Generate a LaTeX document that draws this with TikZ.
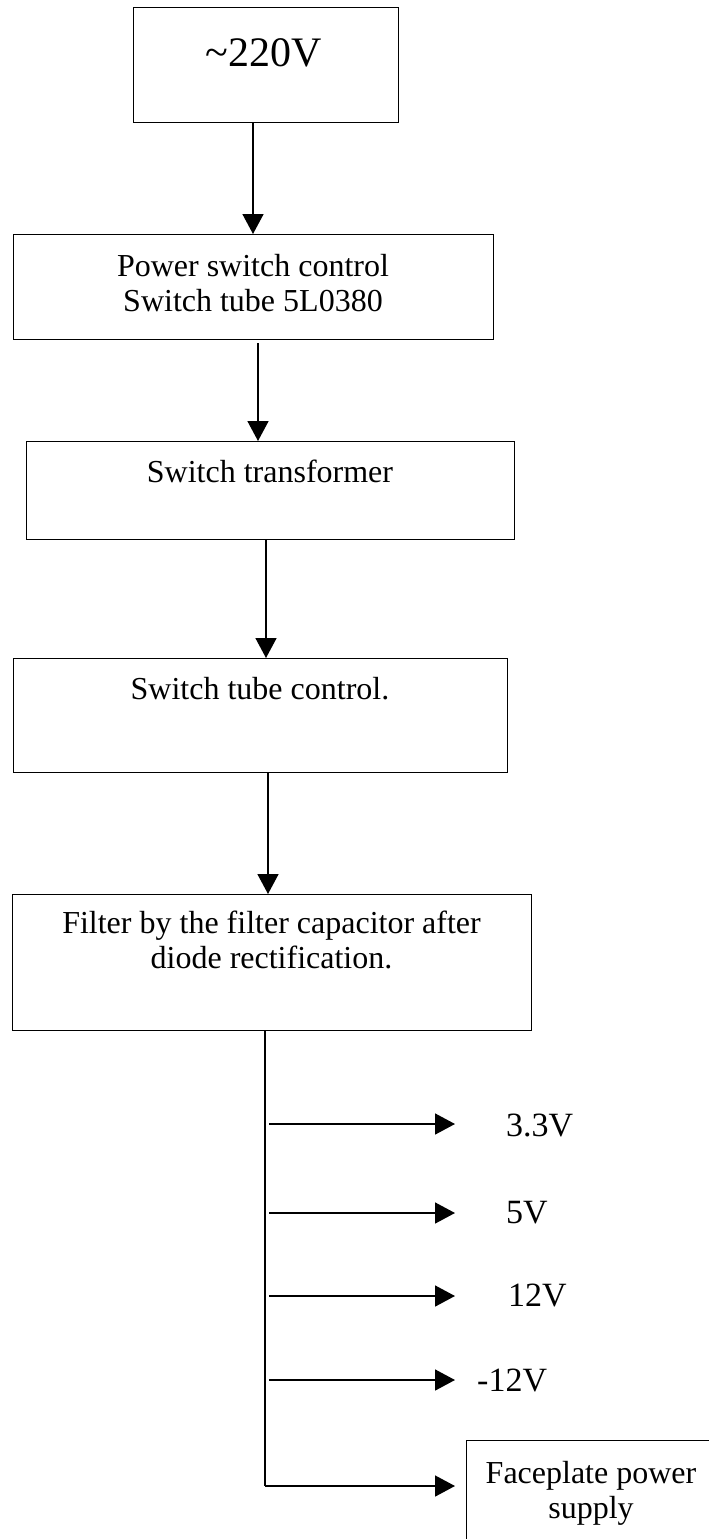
\documentclass[tikz,border=0pt]{standalone}
\usepackage{fontspec}
\setmainfont{Liberation Serif}
\usetikzlibrary{arrows.meta}
\begin{document}
\begin{tikzpicture}[x=1pt,y=-1pt,
  box/.style={draw, line width=1.4pt, inner sep=0pt, anchor=north west},
  txt/.style={font=\fontsize{32}{35}\selectfont, align=center, inner sep=0pt, anchor=base},
  lbl/.style={font=\fontsize{34}{40}\selectfont, anchor=west, inner sep=0pt},
  arr/.style={line width=1.6pt, -{Triangle[length=20pt,width=21pt]}},
  ln/.style={line width=1.6pt}]
\useasboundingbox (0,0) rectangle (709,1539);
\clip (0,0) rectangle (709,1539);
% boxes
\node[box, minimum width=265pt, minimum height=115pt] (b1) at (133,7) {};
\node[font=\fontsize{42}{48}\selectfont, inner sep=0pt, anchor=base] (t1) at (264,66) {\char`\~220V};
\node[box, minimum width=480pt, minimum height=105pt] (b2) at (13,234) {};
\node[txt] (t2) at (253,311) {Power switch control\\Switch tube 5L0380};
\node[box, minimum width=488pt, minimum height=98pt] (b3) at (26,441) {};
\node[txt] (t3) at (270,482) {Switch transformer};
\node[box, minimum width=494pt, minimum height=114pt] (b4) at (13,658) {};
\node[txt] (t4) at (260,699) {Switch tube control.};
\node[box, minimum width=519pt, minimum height=136pt] (b5) at (12,894) {};
\node[txt] (t5) at (271.5,968) {Filter by the filter capacitor after\\diode rectification.};
\node[box, minimum width=300pt, minimum height=150pt] (b6) at (466,1440) {};
\node[txt] (t6) at (591,1518) {Faceplate power\\supply};
% labels
\node[lbl] (l1) at (506,1125) {3.3V};
\node[lbl] (l2) at (506,1213) {5V};
\node[lbl] (l3) at (508,1295) {12V};
\node[lbl] (l4) at (477,1380) {-12V};
% vertical connectors
\draw[arr] (b1.south -| 253,0) -- (b2.north -| 253,0);
\draw[arr] (258,343) -- (b3.north -| 258,0);
\draw[arr] (b3.south -| 266,0) -- (b4.north -| 266,0);
\draw[arr] (b4.south -| 268,0) -- (b5.north -| 268,0);
% bus
\coordinate (busend) at (265,1486);
\draw[ln] (b5.south -| 265,0) -- (busend);
\coordinate (h1) at (269,1124);
\coordinate (h2) at (269,1213);
\coordinate (h3) at (269,1296);
\coordinate (h4) at (269,1380);
\draw[arr] (h1) -- (455,1124);
\draw[arr] (h2) -- (455,1213);
\draw[arr] (h3) -- (455,1296);
\draw[arr] (h4) -- (455,1380);
\draw[arr] (busend) -- (455,1486);
\end{tikzpicture}
\end{document}
